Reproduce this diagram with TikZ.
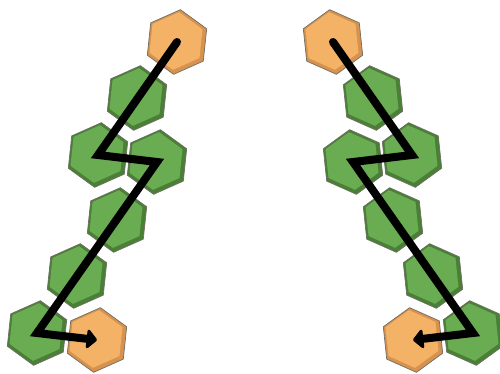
\documentclass[tikz,border=0pt]{standalone}
\usetikzlibrary{shapes.geometric,arrows.meta}
\definecolor{gmain}{RGB}{106,172,82}
\definecolor{gedge}{RGB}{74,128,54}
\definecolor{omain}{RGB}{243,178,102}
\definecolor{oedge}{RGB}{214,146,78}
\definecolor{hexline}{RGB}{110,110,100}
\tikzset{
  hexbase/.style={regular polygon, regular polygon sides=6, minimum size=65pt, inner sep=0pt, draw=hexline, line width=0.7pt},
  ghex/.style={hexbase, fill=gedge},
  ohex/.style={hexbase, fill=oedge},
  ginner/.style={regular polygon, regular polygon sides=6, minimum size=58pt, inner sep=0pt, fill=gmain},
  oinner/.style={regular polygon, regular polygon sides=6, minimum size=58pt, inner sep=0pt, fill=omain},
  lrot/.style={shape border rotate=24},
  rrot/.style={shape border rotate=36},
  trail/.style={line width=8pt, line cap=round, draw=black, -{Triangle[length=11pt,width=22pt,round]}}
}
\begin{document}
\begin{tikzpicture}[x=1pt,y=-1pt]
\useasboundingbox (0,0) rectangle (500,374);
% left cluster
\foreach \n/\x/\y in {L2/137/98, L3/98/155, L4/157/162, L5/117/220, L6/77/276, L7/37/333}{
  \node[ghex,lrot] (\n) at (\x,\y) {};
  \node[ginner,lrot] at ([xshift=-1pt,yshift=1pt]\n.center) {};
}
\foreach \n/\x/\y in {L1/177/42, L8/97/340}{
  \node[ohex,lrot] (\n) at (\x,\y) {};
  \node[oinner,lrot] at ([xshift=-1pt,yshift=1pt]\n.center) {};
}
% right cluster
\foreach \n/\x/\y in {R2/373/98, R3/412/155, R4/353/162, R5/393/220, R6/433/276, R7/473/333}{
  \node[ghex,rrot] (\n) at (\x,\y) {};
  \node[ginner,rrot] at ([xshift=-1pt,yshift=1pt]\n.center) {};
}
\foreach \n/\x/\y in {R1/333/42, R8/413/340}{
  \node[ohex,rrot] (\n) at (\x,\y) {};
  \node[oinner,rrot] at ([xshift=-1pt,yshift=1pt]\n.center) {};
}
% paths
\draw[trail] (L1.center) -- (L3.center) -- (L4.center) -- (L7.center) -- (L8.center);
\draw[trail] (R1.center) -- (R3.center) -- (R4.center) -- (R7.center) -- (R8.center);
\end{tikzpicture}
\end{document}
